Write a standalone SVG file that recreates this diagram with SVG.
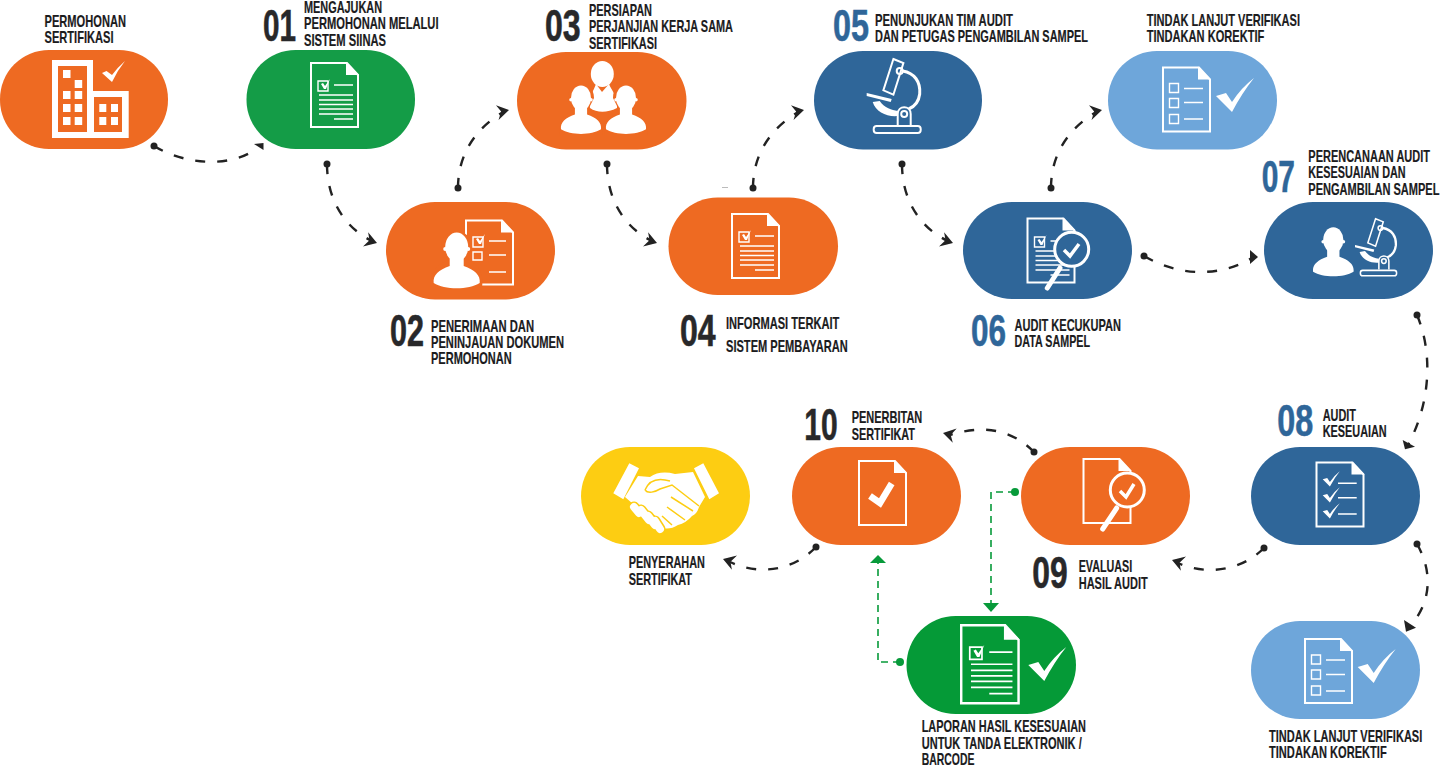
<svg xmlns="http://www.w3.org/2000/svg" width="1440" height="766" viewBox="0 0 1440 766">
<style>
text{font-family:"Liberation Sans",Arial,sans-serif;font-weight:700;fill:#1b1b1d;stroke:#1b1b1d;stroke-width:.2px}
.t{font-size:17px}
.n{font-size:45px;fill:#28282a;stroke:#28282a;stroke-width:.6px}
.b{fill:#2f6699;stroke:#2f6699}
.or{fill:#ee6a22}.gr{fill:#149c47}.gd{fill:#059a37}.bl{fill:#2f6699}.lb{fill:#6ea6da}.ye{fill:#fdcd12}
.s{fill:none;stroke:#fff;stroke-width:2}
.l{stroke-width:1.4}
.m{stroke-width:3}
.f{fill:#fff}
.c{fill:none;stroke:#222;stroke-width:2.400;stroke-dasharray:10 12}
.g{fill:none;stroke:#079a3a;stroke-width:1.600;stroke-dasharray:7 5}
.ad{fill:#222}.ag{fill:#079a3a}
</style>
<defs>
<g id="doc"><path class="s" d="M1 1H37L48 13V65H1Z"/><path class="f" d="M36 0L49 13H36Z"/></g>
<g id="lines"><path class="s l" d="M8 19H18V29H8ZM24 23H43M9 33H43M9 38H43M9 42.500H43M9 47H43M9 52H43M24 57H43"/><path class="f" d="M11 22L13 21L15 24L20 17L16 27H14Z"/></g>
<path id="chk" class="f" d="M0 0L10-3L16 6Q25-8 38-18Q26-3 16 16Z"/>
<path id="arw" class="ad" d="M0 0L-12-7L-8 0L-12 8Z"/>
<g id="psn"><ellipse class="f" cx="0" cy="0" rx="11.500" ry="14.500"/><circle class="f" cx="-11.500" cy="2" r="2"/><circle class="f" cx="11.500" cy="2" r="2"/><path class="f" d="M-23 36C-24 28-18 23-7 19V10H7V19C18 23 24 28 23 36C12 43-12 43-23 36Z"/></g>
<g id="mic"><path class="s" d="M26.700 1L36.700 5L26.700 36.700L16.700 32.300Z"/><circle class="s" cx="33" cy="13" r="3"/><path class="s m" d="M36 13C48 15 54 24 53 36C52 44 47 49 42 51"/><path class="f" d="M0 35L25 41L24 44L0 38Z"/><path class="f" d="M6 44L13 43C18 50 25 52 31 53L31 58C20 59 9 54 6 44Z"/><path class="s" d="M31 67V56C31 47 44 47 44 56V67"/><circle class="s" cx="37.500" cy="56" r="3"/><rect class="s" x="7" y="68" width="47" height="7" rx="3"/></g>
</defs>

<g id="connectors">
<g id="dark-connectors">
<path class="c" d="M154 146C185 165 230 168 256 149"/><circle class="ad" cx="154" cy="146" r="3.500"/><path class="ad" d="M254 144L263.500 143V150Z"/>
<path class="c" d="M327 164C327 200 345 228 372 241"/><circle class="ad" cx="327" cy="164" r="3.500"/><use href="#arw" transform="translate(377 243) rotate(20)"/>
<path class="c" d="M458 188C458 150 480 125 505 111"/><circle class="ad" cx="458" cy="188" r="3.500"/><use href="#arw" transform="translate(509 110) rotate(-10)"/>
<path class="c" d="M607 164C607 200 625 228 652 241"/><circle class="ad" cx="607" cy="164" r="3.500"/><use href="#arw" transform="translate(657 243) rotate(20)"/>
<path class="c" d="M753 188C753 150 775 125 800 111"/><circle class="ad" cx="753" cy="188" r="3.500"/><use href="#arw" transform="translate(804 110) rotate(-10)"/>
<path class="c" d="M902 164C902 200 920 228 948 241"/><circle class="ad" cx="902" cy="164" r="3.500"/><use href="#arw" transform="translate(953 243) rotate(20)"/>
<path class="c" d="M1051 188C1051 150 1073 125 1098 111"/><circle class="ad" cx="1051" cy="188" r="3.500"/><use href="#arw" transform="translate(1102 110) rotate(-10)"/>
<path class="c" d="M1144 256C1180 277 1220 277 1252 258"/><circle class="ad" cx="1144" cy="256" r="3.500"/><path class="ad" d="M1250 250L1258 257L1250 264Z"/>
<path class="c" d="M1417 315C1432 350 1432 400 1408 445"/><circle class="ad" cx="1417" cy="315" r="3.500"/><path class="ad" d="M1402.700 440L1415 446.700L1405 449.300Z"/>
<path class="c" d="M1417 544C1432 570 1432 600 1412 624"/><circle class="ad" cx="1417" cy="544" r="3.500"/><path class="ad" d="M1404 620L1416 627.700L1406 631.700Z"/>
<path class="c" d="M1264 548C1240 572 1205 575 1178 563"/><circle class="ad" cx="1264" cy="548" r="3.500"/><use href="#arw" transform="translate(1172 560) rotate(200)"/>
<path class="c" d="M816 547C792 572 757 575 730 562"/><circle class="ad" cx="816" cy="547" r="3.500"/><use href="#arw" transform="translate(723 559) rotate(200)"/>
<path class="c" d="M1034 452C1012 430 985 424 950 435"/><circle class="ad" cx="1034" cy="452" r="3.500"/><use href="#arw" transform="translate(943 433) rotate(195)"/>
</g>
<g id="green-connectors">
<path class="g" d="M1015 492H991V604"/><circle class="ag" cx="1015" cy="492" r="4"/><path class="ag" d="M983 603H999L991 612Z"/>
<path class="g" d="M900 662H878V563"/><circle class="ag" cx="900" cy="662" r="4"/><path class="ag" d="M870 563H886L878 555Z"/>
</g>
</g>

<g id="n00">
<rect class="or" x="0" y="50" width="168" height="99" rx="49"/>
<path class="f" d="M52 60H93V91H128.700V138H52Z"/>
<path class="or" d="M58 66H87V132H58ZM94 97H122V132H94Z"/>
<path class="f" d="M63 70h7.500v8H63ZM74.700 80h7.500v8h-7.500ZM63 91h7.500v8H63ZM74.700 91h7.500v8h-7.500ZM63 104h7.500v8H63ZM74.700 104h7.500v8h-7.500ZM63 117h7.500v8H63ZM74.700 117h7.500v8h-7.500ZM99.300 104h7v8h-7ZM111 104h7v8h-7ZM99.300 117h7v8h-7ZM111 117h7v8h-7Z"/>
<path class="f" d="M102 73L106.500 71L112 75Q118 67 125 61Q117 71 112 82Z"/>
<text class="t" x="44.500" y="27" textLength="81.500" lengthAdjust="spacingAndGlyphs">PERMOHONAN</text>
<text class="t" x="44.500" y="43.300" textLength="69" lengthAdjust="spacingAndGlyphs">SERTIFIKASI</text>
</g>

<g id="n01">
<rect class="gr" x="246.500" y="50" width="168.500" height="99" rx="49"/>
<use href="#doc" transform="translate(310 62)"/><use href="#lines" transform="translate(310 62)"/>
<text class="n" x="263" y="41" textLength="33" lengthAdjust="spacingAndGlyphs">01</text>
<text class="t" x="304" y="12.500" textLength="78" lengthAdjust="spacingAndGlyphs">MENGAJUKAN</text>
<text class="t" x="304" y="29" textLength="134.500" lengthAdjust="spacingAndGlyphs">PERMOHONAN MELALUI</text>
<text class="t" x="304" y="45.700" textLength="82" lengthAdjust="spacingAndGlyphs">SISTEM SIINAS</text>
</g>

<g id="n02">
<rect class="or" x="386" y="202" width="169" height="97.500" rx="49"/>
<use href="#doc" transform="translate(465 219.500)"/>
<path class="s l" d="M473 237H483V247H473ZM489 241H506M473 252H482V260H473ZM489 255H506M489 272H506"/>
<path class="f" d="M476 239L478 238L480 241L485 234L481 244H479Z"/>
<path class="or" d="M431 288C429 270 440 263 448 260L441 247C441 226 472 226 472 247L468 260C478 264 484 272 482 288Z"/>
<use href="#psn" transform="translate(456.700 247)"/>
<text class="n" x="390" y="346" textLength="34" lengthAdjust="spacingAndGlyphs">02</text>
<text class="t" x="431" y="331.700" textLength="103" lengthAdjust="spacingAndGlyphs">PENERIMAAN DAN</text>
<text class="t" x="431" y="347.700" textLength="133" lengthAdjust="spacingAndGlyphs">PENINJAUAN DOKUMEN</text>
<text class="t" x="431" y="364.300" textLength="80.700" lengthAdjust="spacingAndGlyphs">PERMOHONAN</text>
</g>

<g id="n03">
<rect class="or" x="517" y="52" width="169.500" height="97.500" rx="49"/>
<ellipse class="f" cx="602.300" cy="74" rx="11.500" ry="13"/>
<path class="f" d="M596 84L602 92L609 84C611 90 618 96 617 108C607 113 597 113 590 108C588 98 594 90 596 84Z"/>
<path class="or" d="M560 136C558 120 565 112 574 110L568 98C568 78 594 78 594 98L588 110C596 112 604 120 602 136ZM605 136C603 120 610 112 619 110L613 98C613 78 639 78 639 98L633 110C641 112 649 120 647 136Z"/>
<use href="#psn" transform="translate(581 98) scale(.87)"/>
<use href="#psn" transform="translate(626 98) scale(.87)"/>
<text class="n" x="545" y="41" textLength="35.700" lengthAdjust="spacingAndGlyphs">03</text>
<text class="t" x="589" y="16" textLength="63" lengthAdjust="spacingAndGlyphs">PERSIAPAN</text>
<text class="t" x="589" y="32.300" textLength="144" lengthAdjust="spacingAndGlyphs">PERJANJIAN KERJA SAMA</text>
<text class="t" x="589" y="49" textLength="68" lengthAdjust="spacingAndGlyphs">SERTIFIKASI</text>
</g>

<g id="n04">
<rect class="or" x="668.500" y="197.500" width="169.500" height="97.500" rx="49"/>
<path d="M722 187.500H728" stroke="#bbb" fill="none"/>
<use href="#doc" transform="translate(731 213)"/><use href="#lines" transform="translate(731 213)"/>
<text class="n" x="680" y="346" textLength="35.700" lengthAdjust="spacingAndGlyphs">04</text>
<text class="t" x="726" y="329" textLength="113.300" lengthAdjust="spacingAndGlyphs">INFORMASI TERKAIT</text>
<text class="t" x="726" y="351.700" textLength="121.700" lengthAdjust="spacingAndGlyphs">SISTEM PEMBAYARAN</text>
</g>

<g id="n05">
<rect class="bl" x="814" y="51" width="168" height="98.500" rx="49"/>
<use href="#mic" transform="translate(866.700 58)"/>
<text class="n b" x="833" y="41" textLength="36" lengthAdjust="spacingAndGlyphs">05</text>
<text class="t" x="875" y="26" textLength="138" lengthAdjust="spacingAndGlyphs">PENUNJUKAN TIM AUDIT</text>
<text class="t" x="875" y="42.300" textLength="213" lengthAdjust="spacingAndGlyphs">DAN PETUGAS PENGAMBILAN SAMPEL</text>
</g>

<g id="n05b">
<rect class="lb" x="1108" y="51" width="169" height="98.500" rx="49"/>
<use href="#doc" transform="translate(1162 66.500)"/>
<path class="s l" d="M1169.500 83.500h9v9h-9ZM1169.500 98.500h9v9h-9ZM1169.500 114.500h9v9h-9ZM1184 88.500h19M1184 102.500h19M1184 119h19"/>
<use href="#chk" transform="translate(1216 96)"/>
<text class="t" x="1146.700" y="26" textLength="153.300" lengthAdjust="spacingAndGlyphs">TINDAK LANJUT VERIFIKASI</text>
<text class="t" x="1146.700" y="42.300" textLength="117.700" lengthAdjust="spacingAndGlyphs">TINDAKAN KOREKTIF</text>
</g>

<g id="n06">
<rect class="bl" x="963" y="202" width="169" height="97" rx="49"/>
<use href="#doc" transform="translate(1026.500 217.500)"/><use href="#lines" transform="translate(1026.500 218)"/>
<circle class="bl" cx="1071.700" cy="249.300" r="17" stroke="#fff" stroke-width="3"/>
<path d="M1060 268L1047.300 288" stroke="#fff" stroke-width="5" stroke-linecap="round" fill="none"/>
<path d="M1064 250L1070 256L1079 244" stroke="#fff" stroke-width="3.500" fill="none"/>
<text class="n b" x="971" y="346" textLength="35" lengthAdjust="spacingAndGlyphs">06</text>
<text class="t" x="1014.500" y="331" textLength="106.500" lengthAdjust="spacingAndGlyphs">AUDIT KECUKUPAN</text>
<text class="t" x="1014.500" y="347" textLength="75.500" lengthAdjust="spacingAndGlyphs">DATA SAMPEL</text>
</g>

<g id="n07">
<rect class="bl" x="1264" y="202" width="169" height="97" rx="49"/>
<use href="#psn" transform="translate(1333.300 240) scale(.88)"/>
<use href="#mic" transform="translate(1355 218) scale(.77)"/>
<text class="n b" x="1261.700" y="192" textLength="33.300" lengthAdjust="spacingAndGlyphs">07</text>
<text class="t" transform="translate(1308.300 162.300) scale(.72 1)" textLength="169" lengthAdjust="spacingAndGlyphs">PERENCANAAN AUDIT</text>
<text class="t" transform="translate(1308.300 178.300) scale(.72 1)" textLength="135.100" lengthAdjust="spacingAndGlyphs">KESESUAIAN DAN</text>
<text class="t" transform="translate(1308.300 195) scale(.72 1)" textLength="182.200" lengthAdjust="spacingAndGlyphs">PENGAMBILAN SAMPEL</text>
</g>

<g id="n08">
<rect class="bl" x="1251" y="447" width="169" height="98" rx="49"/>
<use href="#doc" transform="translate(1315.500 461.500)"/>
<use href="#chk" transform="translate(1322.700 479.300) scale(.45)"/>
<use href="#chk" transform="translate(1322.700 495.300) scale(.45)"/>
<use href="#chk" transform="translate(1322.700 511.300) scale(.45)"/>
<path class="s l" d="M1338 483.300h18.700M1338 497.700h18.700M1338 514h18.700"/>
<text class="n b" x="1277.300" y="436" textLength="36" lengthAdjust="spacingAndGlyphs">08</text>
<text class="t" x="1322.700" y="421" textLength="33.300" lengthAdjust="spacingAndGlyphs">AUDIT</text>
<text class="t" x="1322.700" y="437.300" textLength="64" lengthAdjust="spacingAndGlyphs">KESEUAIAN</text>
</g>

<g id="n08b">
<rect class="lb" x="1251" y="621" width="169" height="98" rx="49"/>
<use href="#doc" transform="translate(1304 638)"/>
<path class="s l" d="M1311.500 655h9v9h-9ZM1311.500 670h9v9h-9ZM1311.500 686h9v9h-9ZM1326 660h19M1326 674.500h19M1326 691h19"/>
<use href="#chk" transform="translate(1357.700 667)"/>
<text class="t" x="1269" y="741.700" textLength="153.300" lengthAdjust="spacingAndGlyphs">TINDAK LANJUT VERIFIKASI</text>
<text class="t" x="1269" y="757.700" textLength="117.700" lengthAdjust="spacingAndGlyphs">TINDAKAN KOREKTIF</text>
</g>

<g id="n09">
<rect class="or" x="1021" y="447" width="169" height="98" rx="49"/>
<use href="#doc" transform="translate(1082.500 458)"/>
<circle class="or" cx="1127.300" cy="490" r="17" stroke="#fff" stroke-width="3"/>
<path d="M1116.700 508L1102.700 529" stroke="#fff" stroke-width="5" stroke-linecap="round" fill="none"/>
<path d="M1120 491L1126 497L1134 484" stroke="#fff" stroke-width="3.500" fill="none"/>
<text class="n" x="1032.300" y="588" textLength="35.400" lengthAdjust="spacingAndGlyphs">09</text>
<text class="t" x="1078.700" y="572.300" textLength="53.600" lengthAdjust="spacingAndGlyphs">EVALUASI</text>
<text class="t" x="1078.700" y="588.700" textLength="69" lengthAdjust="spacingAndGlyphs">HASIL AUDIT</text>
</g>

<g id="n10">
<rect class="or" x="792" y="447" width="169" height="98" rx="49"/>
<use href="#doc" transform="translate(858 460)"/>
<path d="M870 496L880 503L891.700 483.500" stroke="#fff" stroke-width="6.500" fill="none"/>
<text class="n" x="804.300" y="440" textLength="33.400" lengthAdjust="spacingAndGlyphs">10</text>
<text class="t" x="851.700" y="423.300" textLength="70.600" lengthAdjust="spacingAndGlyphs">PENERBITAN</text>
<text class="t" x="851.700" y="440" textLength="63.300" lengthAdjust="spacingAndGlyphs">SERTIFIKAT</text>
</g>

<g id="n11">
<rect class="ye" x="581" y="447" width="169" height="98" rx="49"/>
<path class="f" d="M613.300 493.300L629.300 463.300L639 468.300L623.300 499.300ZM694 468.300L703.300 463.300L719 493.300L709.300 499.300Z"/>
<path class="f" d="M625 497L638 476L650 477Q660 470 675 474L693 472L705 497L699 507Q697 514 692 516Q686 523 678 525Q670 530 663 528L640 510Z"/>
<path d="M634 507L639 513M641 510L649 520M648 516L655 525M655 521L660 529" stroke="#fdcd12" stroke-width="11" stroke-linecap="round" fill="none"/>
<path d="M634 507L639 513M641 510L649 520M648 516L655 525M655 521L660 529" stroke="#fff" stroke-width="8" stroke-linecap="round" fill="none"/>
<path d="M645 490C650 478 660 478 670 481M645 490C648 494 655 492 660 489L672 485L699 506M671 497L693 511M667 507L685 520M662 516L672 525" stroke="#fdcd12" stroke-width="1.500" fill="none"/>
<text class="t" x="628.700" y="568.300" textLength="76.300" lengthAdjust="spacingAndGlyphs">PENYERAHAN</text>
<text class="t" x="628.700" y="585" textLength="63.300" lengthAdjust="spacingAndGlyphs">SERTIFIKAT</text>
</g>

<g id="n12">
<rect class="gd" x="906.500" y="616" width="169.500" height="98" rx="49"/>
<g transform="translate(960 624) scale(1.220)"><use href="#doc"/><use href="#lines"/></g>
<use href="#chk" transform="translate(1028.300 665)"/>
<text class="t" x="921.700" y="732.300" textLength="164.300" lengthAdjust="spacingAndGlyphs">LAPORAN HASIL KESESUAIAN</text>
<text class="t" x="921.700" y="749" textLength="160" lengthAdjust="spacingAndGlyphs">UNTUK TANDA ELEKTRONIK /</text>
<text class="t" x="921.700" y="765" textLength="52.700" lengthAdjust="spacingAndGlyphs">BARCODE</text>
</g>
</svg>
